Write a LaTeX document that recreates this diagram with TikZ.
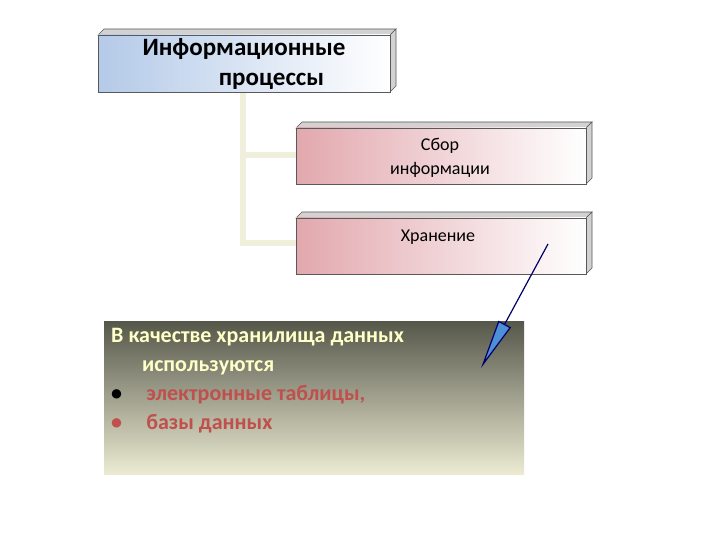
\documentclass[tikz,border=0pt]{standalone}
\usepackage{fontspec}
\setmainfont{Carlito}
\usetikzlibrary{arrows.meta}
\definecolor{bluel}{HTML}{B4CAE8}
\definecolor{pinkl}{HTML}{E2A8AE}
\definecolor{dark}{HTML}{55574A}
\definecolor{lite}{HTML}{ECEBD2}
\definecolor{redt}{HTML}{C0504D}
\definecolor{yel}{HTML}{FFFFC8}
\definecolor{arrf}{HTML}{4F8FD8}
\begin{document}
\begin{tikzpicture}[x=1pt,y=-1pt,
  boxline/.style={draw=gray!70!black,line width=0.8pt},
  bevel/.style={fill=gray!35,draw=gray!70!black,line width=0.6pt},
  conn/.style={line width=6pt,draw=lite!80!white}]
\useasboundingbox (0,0) rectangle (720,540);
\fill[white] (0,0) rectangle (720,540);
% connectors
\coordinate (v0) at (243,92);
\coordinate (v1) at (243,155);
\coordinate (v2) at (243,243);
\draw[conn] (v0) -- (v2) -- (296,243);
\draw[conn] (v1) -- (296,155);
% top box
\fill[bevel] (98,35) -- (104,29) -- (396,29) -- (390,35) -- cycle;
\fill[bevel] (390,35) -- (396,29) -- (396,86) -- (390,92) -- cycle;
\shade[left color=bluel,right color=white] (98,35) rectangle (390,92);
\draw[boxline] (98,35) rectangle (390,92);
\node[align=center,font=\bfseries\fontsize{25}{30}\selectfont,inner sep=0] (t) at (244,64) {Информационные\\\hspace*{2.2em}процессы};
% box 2
\fill[bevel] (296,128) -- (302,122) -- (592,122) -- (586,128) -- cycle;
\fill[bevel] (586,128) -- (592,122) -- (592,178) -- (586,184) -- cycle;
\shade[left color=pinkl,right color=white] (296,128) rectangle (586,184);
\draw[boxline] (296,128) rectangle (586,184);
\node[align=center,font=\fontsize{18}{24}\selectfont] (b2) at (440,158) {Сбор\\информации};
% box 3
\fill[bevel] (296,218) -- (302,212) -- (592,212) -- (586,218) -- cycle;
\fill[bevel] (586,218) -- (592,212) -- (592,268) -- (586,274) -- cycle;
\shade[left color=pinkl,right color=white] (296,218) rectangle (586,274);
\draw[boxline] (296,218) rectangle (586,274);
\node[font=\fontsize{18}{20}\selectfont] (b3) at (438,237) {Хранение};
% text box
\shade[top color=dark,bottom color=lite] (104,321) rectangle (524,474);
\node[anchor=north west,align=left,font=\bfseries\fontsize{22}{29}\selectfont,inner sep=0] (tx) at (111,328)
 {\textcolor{yel}{В качестве хранилища данных}\\
  \hspace*{1.4em}\textcolor{yel}{используются}\\
  \textcolor{black}{•}\hspace*{1.1em}\textcolor{redt}{электронные таблицы,}\\
  \textcolor{redt}{•\hspace*{1.1em}базы данных}};
% arrow
\coordinate (a0) at (548,244);
\coordinate (a1) at (481,368);
\draw[line width=1.2pt,draw=blue!40!black,
  -{Triangle[length=50pt,width=14pt,fill=arrf]}] (a0) -- (a1);
\end{tikzpicture}
\end{document}
